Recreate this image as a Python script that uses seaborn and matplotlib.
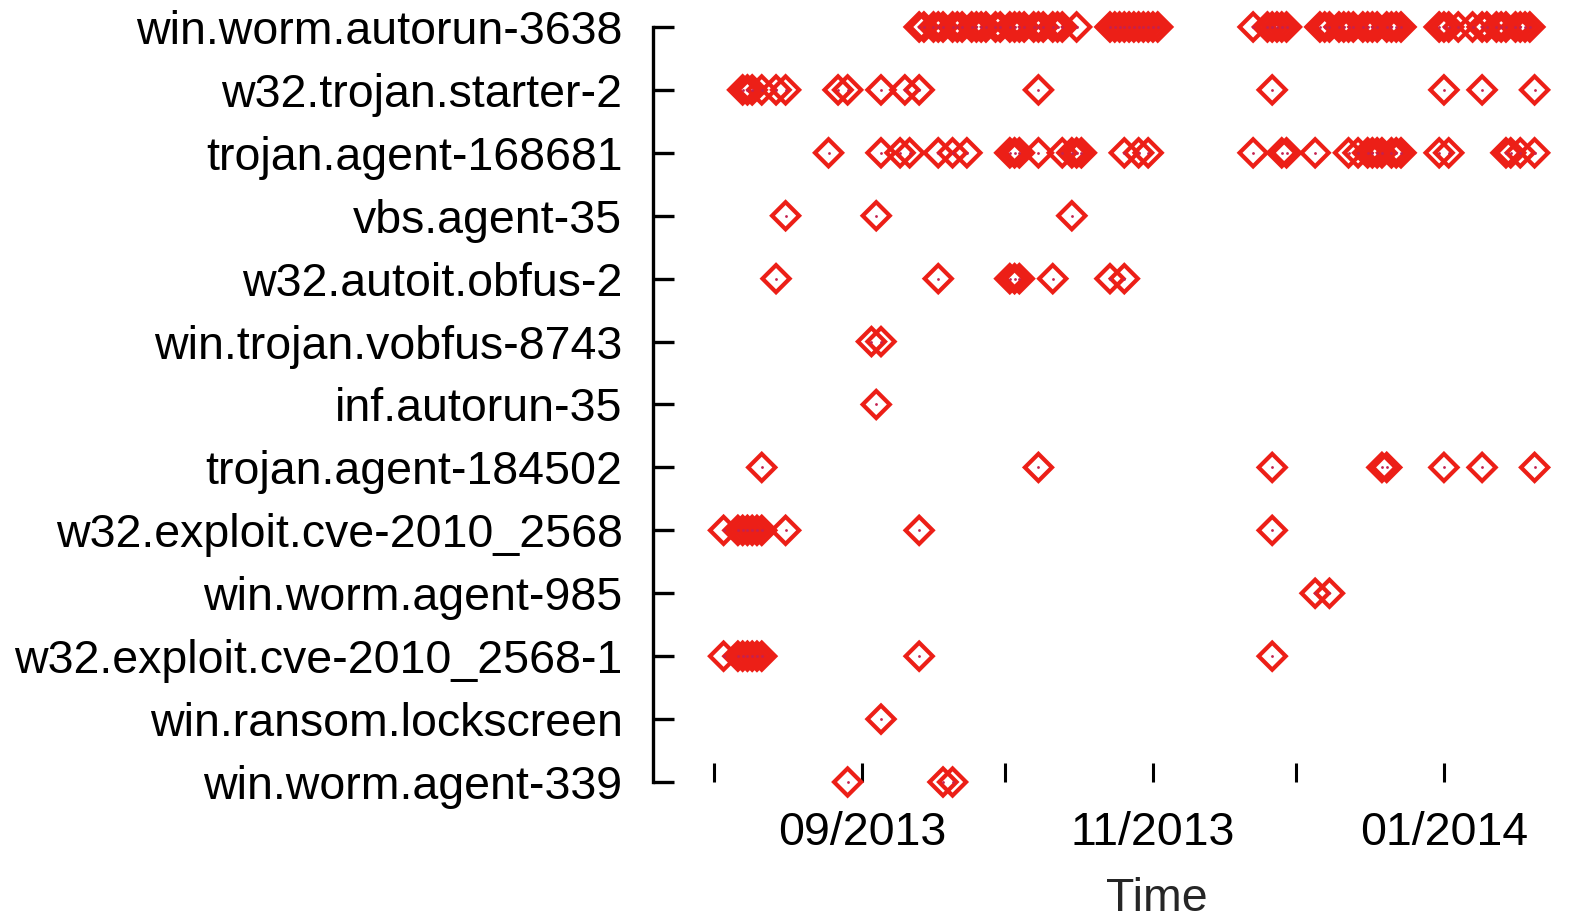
import pandas as pd
import matplotlib
matplotlib.use('Agg')
import matplotlib.pyplot as plt
import matplotlib.dates as mdates
import seaborn as sns

# --- DATA: detection dates per malware family ---
FAMILIES = [
    'win.worm.autorun-3638', 'w32.trojan.starter-2', 'trojan.agent-168681',
    'vbs.agent-35', 'w32.autoit.obfus-2', 'win.trojan.vobfus-8743',
    'inf.autorun-35', 'trojan.agent-184502', 'w32.exploit.cve-2010_2568',
    'win.worm.agent-985', 'w32.exploit.cve-2010_2568-1',
    'win.ransom.lockscreen', 'win.worm.agent-339',
]

autorun_3638 = [
    '2013-09-13', '2013-09-14', '2013-09-16', '2013-09-17', '2013-09-18', '2013-09-20',
    '2013-09-21', '2013-09-22', '2013-09-24', '2013-09-25', '2013-09-26', '2013-09-27',
    '2013-09-29', '2013-09-30', '2013-10-02', '2013-10-03', '2013-10-04', '2013-10-05',
    '2013-10-07', '2013-10-08', '2013-10-09', '2013-10-11', '2013-10-12', '2013-10-13',
    '2013-10-16',
    '2013-10-23', '2013-10-24', '2013-10-25', '2013-10-26', '2013-10-27', '2013-10-28',
    '2013-10-29', '2013-10-30', '2013-10-31', '2013-11-01', '2013-11-02',
    '2013-11-22', '2013-11-25', '2013-11-26', '2013-11-27', '2013-11-28', '2013-11-29',
    '2013-12-06', '2013-12-07', '2013-12-08', '2013-12-10', '2013-12-11', '2013-12-12',
    '2013-12-13', '2013-12-15', '2013-12-16', '2013-12-17', '2013-12-18', '2013-12-20',
    '2013-12-21', '2013-12-22', '2013-12-23',
    '2013-12-31', '2014-01-01', '2014-01-02', '2014-01-04', '2014-01-07', '2014-01-09',
    '2014-01-10', '2014-01-12', '2014-01-13', '2014-01-14', '2014-01-16', '2014-01-17',
    '2014-01-18', '2014-01-19',
]
trojan_starter_2 = [
    '2013-08-07', '2013-08-08', '2013-08-09', '2013-08-11', '2013-08-14', '2013-08-16',
    '2013-08-27', '2013-08-29', '2013-09-05', '2013-09-10', '2013-09-13', '2013-10-08',
    '2013-11-26', '2014-01-01', '2014-01-09', '2014-01-20',
]
agent_168681 = [
    '2013-08-25', '2013-09-05', '2013-09-09', '2013-09-11', '2013-09-17', '2013-09-20',
    '2013-09-23', '2013-10-02', '2013-10-03', '2013-10-04', '2013-10-08', '2013-10-13',
    '2013-10-15', '2013-10-16', '2013-10-17', '2013-10-26', '2013-10-29', '2013-10-31',
    '2013-11-22', '2013-11-28', '2013-11-29', '2013-12-05', '2013-12-12', '2013-12-14',
    '2013-12-16', '2013-12-17', '2013-12-18', '2013-12-19', '2013-12-21', '2013-12-22',
    '2013-12-23', '2013-12-31', '2014-01-02', '2014-01-14', '2014-01-15', '2014-01-17',
    '2014-01-20',
]
vbs_agent_35 = ['2013-08-16', '2013-09-04', '2013-10-15']
autoit_obfus_2 = ['2013-08-14', '2013-09-17', '2013-10-02', '2013-10-03', '2013-10-04',
                  '2013-10-11', '2013-10-23', '2013-10-26']
vobfus_8743 = ['2013-09-03', '2013-09-05']
inf_autorun_35 = ['2013-09-04']
agent_184502 = ['2013-08-11', '2013-10-08', '2013-11-26', '2013-12-19', '2013-12-20',
                '2014-01-01', '2014-01-09', '2014-01-20']
cve_2010_2568 = ['2013-08-03', '2013-08-06', '2013-08-07', '2013-08-08', '2013-08-09',
                 '2013-08-10', '2013-08-11', '2013-08-16', '2013-09-13', '2013-11-26']
worm_agent_985 = ['2013-12-05', '2013-12-08']
cve_2010_2568_1 = ['2013-08-03', '2013-08-06', '2013-08-07', '2013-08-08', '2013-08-09',
                   '2013-08-10', '2013-08-11', '2013-09-13', '2013-11-26']
ransom_lockscreen = ['2013-09-05']
worm_agent_339 = ['2013-08-29', '2013-09-18', '2013-09-20']

DATES = [autorun_3638, trojan_starter_2, agent_168681, vbs_agent_35, autoit_obfus_2,
         vobfus_8743, inf_autorun_35, agent_184502, cve_2010_2568, worm_agent_985,
         cve_2010_2568_1, ransom_lockscreen, worm_agent_339]

RED = '#ec1f17'


def generate_plot():
    df = pd.DataFrame(
        [(fam, d) for fam, ds in zip(FAMILIES, DATES) for d in ds],
        columns=['family', 'date'])
    df['date'] = pd.to_datetime(df['date'])

    sns.set_style('ticks')
    plt.rcParams['font.family'] = ['Liberation Sans', 'DejaVu Sans']

    fig = plt.figure(figsize=(15.87, 9.17), dpi=100)
    ax = fig.add_axes([653 / 1587, 0.1472, 1008 / 1587, 0.8234])

    # open diamonds
    sns.scatterplot(data=df, x='date', y='family', marker='D', s=190, ax=ax,
                    color=RED, legend=False)
    pts = ax.collections[-1]
    pts.set_facecolor('none')
    pts.set_edgecolor(RED)
    pts.set_linewidth(3.0)
    pts.set_joinstyle('miter')
    pts.set_clip_on(False)

    # small centre dot (gnuplot style)
    sns.scatterplot(data=df, x='date', y='family', marker='o', s=4, ax=ax,
                    color='#c42050', linewidth=0, legend=False)
    ax.collections[-1].set_clip_on(False)

    ax.set_ylim(len(FAMILIES) - 1, 0)
    ax.set_xlim(pd.Timestamp('2013-07-19 05:00'), pd.Timestamp('2014-02-15 12:00'))

    ax.xaxis.set_major_locator(mdates.MonthLocator(bymonth=[1, 9, 11]))
    ax.xaxis.set_major_formatter(mdates.DateFormatter('%m/%Y'))
    ax.xaxis.set_minor_locator(mdates.MonthLocator(bymonth=[2, 8, 10, 12]))

    for s in ['top', 'right', 'bottom']:
        ax.spines[s].set_visible(False)
    ax.spines['left'].set_linewidth(2.4)
    ax.spines['left'].set_color('black')

    ax.tick_params(axis='y', direction='in', length=15, width=2.4, pad=22,
                   labelsize=33.5, colors='black')
    ax.tick_params(axis='x', which='both', direction='in', length=14, width=2.2,
                   pad=21, labelsize=33.5, colors='black')

    ax.set_ylabel('')
    ax.set_xlabel('Time', fontsize=33.5, labelpad=16)

    fig.savefig('out.png', dpi=100)


if __name__ == "__main__":
    generate_plot()
